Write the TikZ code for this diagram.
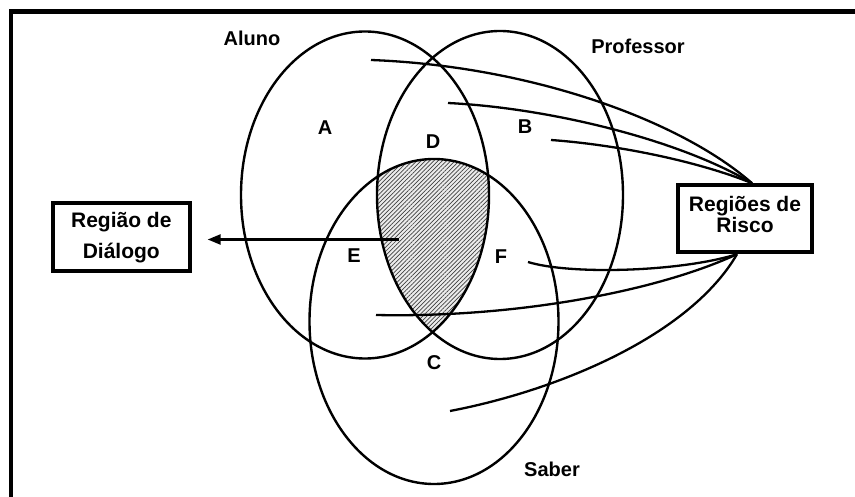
\documentclass[tikz,border=0pt]{standalone}
\usepackage{fontspec}
\setmainfont{Liberation Sans}
\usetikzlibrary{arrows.meta,patterns.meta}
\begin{document}
\begin{tikzpicture}[x=1pt,y=-1pt,
  setline/.style={line width=2.4pt},
  link/.style={line width=2.3pt},
  lbl/.style={font=\fontsize{20}{20}\selectfont\bfseries, inner sep=0pt},
  tag/.style={draw, line width=4pt, align=center, inner sep=0pt},
  hatch/.style={pattern={Lines[angle=45,distance=3pt,line width=0.7pt]}, pattern color=black!75}
]
\useasboundingbox (0,0) rectangle (855,497);
\fill[white] (0,0) rectangle (855,497);
% frame
\draw[line width=4.5pt] (855,11.7) -- (11,11.7) -- (11,497);

% hatched common region
\begin{scope}
  \clip (365,195) ellipse [x radius=124, y radius=163.5];
  \clip (500,195) ellipse [x radius=123, y radius=164];
  \fill[gray!15] (434,321.5) ellipse [x radius=124.5, y radius=162.5];
  \fill[hatch] (434,321.5) ellipse [x radius=124.5, y radius=162.5];
\end{scope}

% sets
\draw[setline] (365,195) ellipse [x radius=124, y radius=163.5];
\draw[setline] (500,195) ellipse [x radius=123, y radius=164];
\draw[setline] (434,321.5) ellipse [x radius=124.5, y radius=162.5];

% labels
\node[lbl] (aluno) at (252,38) {Aluno};
\node[lbl] (prof) at (638,46) {Professor};
\node[lbl] (saber) at (552,469) {Saber};
\node[lbl] (rA) at (325,128) {A};
\node[lbl] (rB) at (525,127) {B};
\node[lbl] (rD) at (433,142) {D};
\node[lbl] (rE) at (354,256) {E};
\node[lbl] (rF) at (501,257) {F};
\node[lbl] (rC) at (434,363) {C};

% boxes
\node[tag, minimum width=134pt, minimum height=67pt, text depth=8pt,
      font=\fontsize{21}{21}\selectfont\bfseries] (risk) at (745,218.7) {Regiões de\\Risco};
\node[tag, minimum width=136.7pt, minimum height=68pt,
      font=\fontsize{21}{31}\selectfont\bfseries] (dialog) at (121.3,237.3) {Região de\\Diálogo};

% start / end points of connectors
\coordinate (s1) at (371,60);
\coordinate (s2) at (448,103);
\coordinate (s3) at (551,140);
\coordinate (sF) at (528,262);
\coordinate (sE) at (376,315);
\coordinate (sS) at (450,411);
\coordinate (sD) at (399,239.5);
\coordinate (rtop) at ([xshift=7pt]risk.north);
\coordinate (rbot) at ([xshift=-8pt]risk.south);
\coordinate (dtip) at ([shift={(16pt,-2.2pt)}]dialog.east);

% connectors to Regiões de Risco
\draw[link] (s1) .. controls (530,66) and (680,120) .. (rtop);
\draw[link] (s2) .. controls (550,108) and (680,140) .. (rtop);
\draw[link] (s3) .. controls (620,145) and (700,162) .. (rtop);
\draw[link] (sF) .. controls (570,275) and (680,272) .. (rbot);
\draw[link] (sE) .. controls (520,318) and (660,290) .. (rbot);
\draw[link] (sS) .. controls (560,390) and (690,335) .. (rbot);

% arrow to Região de Diálogo
\draw[link, -{Triangle[length=13pt,width=10pt]}] (sD) -- (dtip);
\end{tikzpicture}
\end{document}
